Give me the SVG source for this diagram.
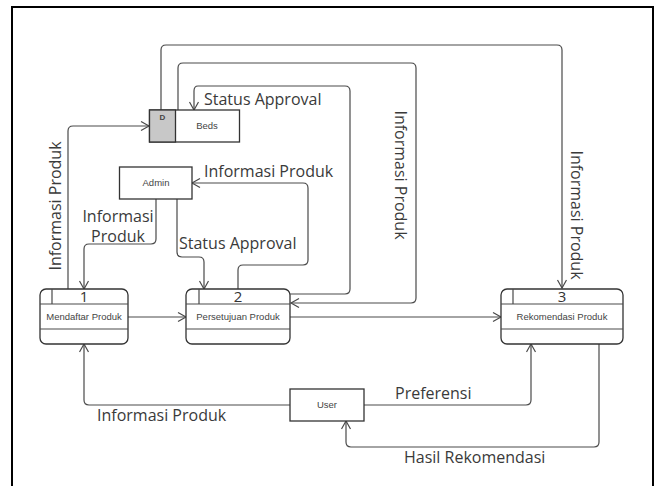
<svg xmlns="http://www.w3.org/2000/svg" width="657" height="486" viewBox="0 0 657 486">
<style>
.ln{fill:none;stroke:#4a4a4a;stroke-width:1.2}
.bx{fill:#fff;stroke:#333;stroke-width:1.3}
.lbl{font-family:"Open Sans","DejaVu Sans",sans-serif;font-size:16px;fill:#3a3a3a}
.sm{font-family:"Liberation Sans",Arial,sans-serif;font-size:9.5px;fill:#444;text-anchor:middle}
.num{font-family:"Open Sans","DejaVu Sans",sans-serif;font-size:15px;fill:#333;text-anchor:middle}
</style>
<defs>
<marker id="ar" markerUnits="userSpaceOnUse" markerWidth="12" markerHeight="12" refX="9" refY="5" orient="auto">
<path d="M1,0.5 L9,5 L1,9.5" fill="none" stroke="#4a4a4a" stroke-width="1.2"/>
</marker>
</defs>
<rect x="0" y="0" width="657" height="486" fill="#fff"/>
<path d="M12,490 V7 H653 V490" fill="none" stroke="#000" stroke-width="2"/>

<g id="connectors">
<path class="ln" marker-end="url(#ar)" d="M161,110 V50 Q161,45 166,45 H557 Q562,45 562,50 V288"/>
<path class="ln" marker-end="url(#ar)" d="M178,110 V68 Q178,63 183,63 H411 Q416,63 416,68 V298 Q416,303 411,303 H291"/>
<path class="ln" marker-end="url(#ar)" d="M290,294 H345 Q350,294 350,289 V91 Q350,86 345,86 H198 Q194,86 194,91 V110"/>
<path class="ln" marker-end="url(#ar)" d="M68,289 V131 Q68,126 73,126 H149"/>
<path class="ln" marker-end="url(#ar)" d="M156,199 V239 Q156,244 151,244 H89 Q84,244 84,249 V289"/>
<path class="ln" marker-end="url(#ar)" d="M177,199 V252 Q177,257 182,257 H199 Q204,257 204,262 V289"/>
<path class="ln" marker-end="url(#ar)" d="M238,289 V270 Q238,265 243,265 H303 Q308,265 308,260 V188 Q308,183 303,183 H192"/>
<path class="ln" marker-end="url(#ar)" d="M128,317 H186"/>
<path class="ln" marker-end="url(#ar)" d="M290,317 H501"/>
<path class="ln" marker-end="url(#ar)" d="M290,405 H89 Q84,405 84,400 V344"/>
<path class="ln" marker-end="url(#ar)" d="M364,405 H526 Q531,405 531,400 V344"/>
<path class="ln" marker-end="url(#ar)" d="M599,344 V442 Q599,447 594,447 H351 Q346,447 346,442 V421"/>
</g>

<g id="labels">
<text class="lbl" x="204" y="105">Status Approval</text>
<text class="lbl" x="204" y="177">Informasi Produk</text>
<text class="lbl" text-anchor="middle"><tspan x="118" y="222">Informasi</tspan><tspan x="118" y="242">Produk</tspan></text>
<text class="lbl" x="179" y="249">Status Approval</text>
<text class="lbl" x="395" y="399">Preferensi</text>
<text class="lbl" x="97" y="421">Informasi Produk</text>
<text class="lbl" x="404" y="463">Hasil Rekomendasi</text>
<text class="lbl" text-anchor="middle" transform="translate(61,206) rotate(-90)">Informasi Produk</text>
<text class="lbl" text-anchor="middle" transform="translate(395,175) rotate(90)">Informasi Produk</text>
<text class="lbl" text-anchor="middle" transform="translate(571,215) rotate(90)">Informasi Produk</text>
</g>

<g id="beds">
<rect class="bx" x="149.5" y="110" width="90" height="32"/>
<rect x="149.5" y="110" width="26" height="32" fill="#c8c8c8" stroke="#333" stroke-width="1.3"/>
<text class="sm" x="162.5" y="119.5" style="font-size:8px;font-weight:bold">D</text>
<text class="sm" x="207" y="129">Beds</text>
</g>

<g id="admin">
<rect class="bx" x="119.5" y="167" width="72.5" height="32"/>
<text class="sm" x="156" y="186">Admin</text>
</g>

<g id="user">
<rect class="bx" x="290" y="389" width="74" height="32"/>
<text class="sm" x="327" y="408">User</text>
</g>

<g id="p1">
<rect class="bx" x="40" y="289" width="88" height="55" rx="6"/>
<path class="ln" d="M52,289 V304 M40,304 H128 M40,329 H128"/>
<text class="num" x="84" y="302">1</text>
<text class="sm" x="84" y="320">Mendaftar Produk</text>
</g>

<g id="p2">
<rect class="bx" x="186" y="289" width="104" height="55" rx="6"/>
<path class="ln" d="M199,289 V304 M186,304 H290 M186,329 H290"/>
<text class="num" x="238" y="302">2</text>
<text class="sm" x="238" y="320">Persetujuan Produk</text>
</g>

<g id="p3">
<rect class="bx" x="501" y="289" width="122" height="55" rx="6"/>
<path class="ln" d="M513,289 V304 M501,304 H623 M501,329 H623"/>
<text class="num" x="562" y="302">3</text>
<text class="sm" x="562" y="320">Rekomendasi Produk</text>
</g>
</svg>
